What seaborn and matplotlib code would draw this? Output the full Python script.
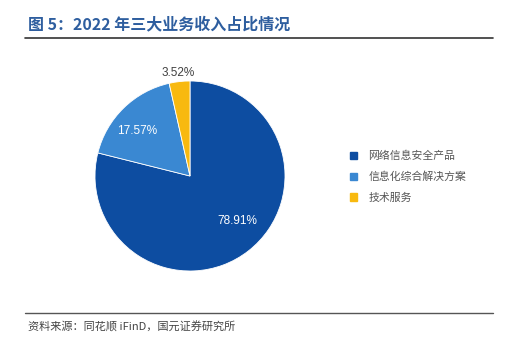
import matplotlib
matplotlib.use("Agg")
import matplotlib.pyplot as plt
import seaborn as sns
from matplotlib.lines import Line2D
from matplotlib.patches import Patch

sns.set_style("white")
plt.rcParams['font.family'] = ['Noto Sans CJK SC', 'DejaVu Sans']

categories = ["网络信息安全产品", "信息化综合解决方案", "技术服务"]
values = [78.91, 17.57, 3.52]
labels = ["78.91%", "17.57%", "3.52%"]
colors = ["#0D4DA1", "#3A88D2", "#F8B90F"]

fig = plt.figure(figsize=(5.16, 3.41), dpi=100)
fig.patch.set_facecolor("white")

# Title
fig.text(28/516, 1-24/341, "图 5：2022 年三大业务收入占比情况", fontsize=11.5, fontweight="bold",
         color="#2E5E9F", va="center", ha="left")
fig.add_artist(Line2D([25/516, 493/516], [1-38/341, 1-38/341], color="#333333", lw=1.2))
fig.add_artist(Line2D([25/516, 493/516], [1-313/341, 1-313/341], color="#555555", lw=1.0))
fig.text(28/516, 1-327/341, "资料来源：同花顺 iFinD，国元证券研究所", fontsize=8, color="#444444",
         va="center", ha="left")

ax = fig.add_axes([95/516, 70/341, 190/516, 190/341])
wedges, texts = ax.pie(values, colors=colors, startangle=90, counterclock=False,
                       wedgeprops=dict(linewidth=0.6, edgecolor="white"))
ax.set_aspect("equal")
ax.set_xlim(-1, 1); ax.set_ylim(-1, 1)
ax.axis("off")

num_font = ['Liberation Sans', 'DejaVu Sans']
ax.text(0.5, -0.47, labels[0], color="white", fontsize=8.5, ha="center", va="center", family=num_font)
ax.text(-0.56, 0.47, labels[1], color="white", fontsize=8.5, ha="center", va="center", family=num_font)
ax.text(-0.12, 1.08, labels[2], color="#404040", fontsize=8.5, ha="center", va="center", family=num_font)

handles = [Patch(facecolor=c, edgecolor=c) for c in colors]
fig.legend(handles, categories, loc="upper left", bbox_to_anchor=(340/516, 1-141/341),
           frameon=False, fontsize=7.8, labelcolor="#555555", handlelength=0.7, handleheight=0.7,
           labelspacing=0.95, handletextpad=1.0)

fig.savefig("out.png", dpi=100)
